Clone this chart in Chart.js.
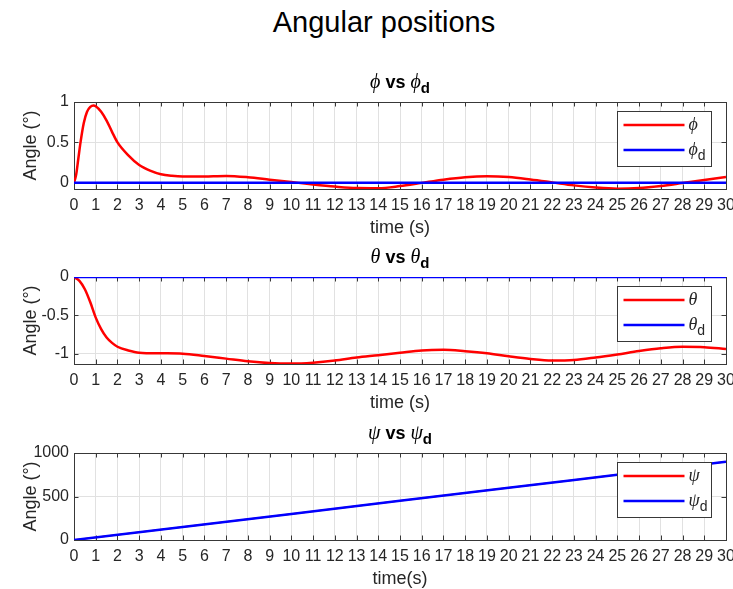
<!DOCTYPE html>
<html>
<head>
<meta charset="utf-8">
<script src="https://cdn.jsdelivr.net/npm/chart.js@4.4.1/dist/chart.umd.min.js"></script>
<style>
  html, body { margin: 0; padding: 0; background: #fff; }
  #wrap { position: relative; width: 733px; height: 589px; overflow: hidden; background: #fff; }
  #wrap canvas { position: absolute; left: 0; }
  #mainTitle {
    position: absolute; top: 8px; left: 384px; transform: translateX(-50%);
    font: 29px/29px 'Liberation Sans', Arial, sans-serif; color: #000; white-space: nowrap;
  }
</style>
</head>
<body>
<div id="wrap">
  <div id="mainTitle">Angular positions</div>
  <canvas id="phiChart" width="733" height="176" style="top:62px"></canvas>
  <canvas id="thetaChart" width="733" height="176" style="top:237px"></canvas>
  <canvas id="psiChart" width="733" height="176" style="top:413px"></canvas>
</div>
<script>
// ---- data ----
const timeTicks = Array.from({ length: 31 }, (_, i) => i);

const phiTime = [0, 0.1, 0.2, 0.3, 0.45, 0.6, 0.75, 0.9, 1.0, 1.25, 1.5, 1.75, 2.0, 2.5, 3.0, 3.5, 4.0, 4.5, 5, 6, 7, 8, 9, 10, 11, 12, 13, 14, 15, 16, 17, 18, 19, 20, 21, 22, 23, 24, 25, 26, 27, 28, 29, 30];
const phiVals = [0, 0.1, 0.3, 0.5, 0.74, 0.88, 0.94, 0.958, 0.948, 0.88, 0.77, 0.63, 0.5, 0.34, 0.22, 0.15, 0.105, 0.085, 0.076, 0.078, 0.084, 0.068, 0.038, 0.008, -0.022, -0.048, -0.066, -0.068, -0.042, -0.002, 0.038, 0.068, 0.08, 0.07, 0.04, 0.004, -0.033, -0.06, -0.074, -0.066, -0.04, -0.004, 0.033, 0.07];
const phiDesTime = [0, 30];
const phiDesVals = [0, 0];

const thetaTime = [0, 0.25, 0.5, 0.75, 1.0, 1.25, 1.5, 1.75, 2.0, 2.5, 3, 4, 5, 6, 7, 8, 9, 10, 11, 12, 13, 14, 15, 16, 17, 18, 19, 20, 21, 22, 23, 24, 25, 26, 27, 28, 29, 30];
const thetaVals = [0, -0.05, -0.16, -0.33, -0.53, -0.68, -0.79, -0.86, -0.91, -0.958, -0.987, -0.995, -1.0, -1.03, -1.065, -1.1, -1.123, -1.13, -1.118, -1.09, -1.05, -1.02, -0.988, -0.958, -0.95, -0.968, -0.995, -1.035, -1.07, -1.09, -1.083, -1.05, -1.01, -0.966, -0.93, -0.91, -0.915, -0.94];
const thetaDesTime = [0, 30];
const thetaDesVals = [0, 0];

const psiTime = [0, 5, 10, 15, 20, 25, 30];
const psiVals = [0, 150, 300, 450, 600, 750, 900];
const psiDesVals = [0, 150, 300, 450, 600, 750, 900];

const phiTicks = [0, 0.5, 1];
const thetaTicks = [-1, -0.5, 0];
const psiTicks = [0, 500, 1000];

const phiRange = [-0.078, 1];
const thetaRange = [-1.135, 0];
const psiRange = [0, 1000];

// ---- styling ----
const SANS = "'Liberation Sans', Arial, sans-serif";
const SERIF = "'Liberation Serif', 'DejaVu Serif', serif";
const RED = '#ff0000';
const BLUE = '#0000ff';
const FRAME = '#383838';
const GRID = '#e1e1e1';

function pts(xs, ys) { return xs.map((x, i) => ({ x, y: ys[i] })); }

// Draws a run of mixed-font pieces. Pieces: {text, font, dy}
function drawPieces(ctx, pieces, x, y, align) {
  let total = 0;
  pieces.forEach(p => { ctx.font = p.font; total += ctx.measureText(p.text).width; });
  let cx = align === 'center' ? x - total / 2 : x;
  ctx.textBaseline = 'alphabetic';
  ctx.textAlign = 'left';
  pieces.forEach(p => {
    ctx.font = p.font;
    ctx.fillText(p.text, cx, y + (p.dy || 0));
    cx += ctx.measureText(p.text).width;
  });
}

const panelDecor = {
  id: 'panelDecor',
  beforeDatasetsDraw(chart) {
    const { ctx, chartArea: a, scales } = chart;
    ctx.save();
    ctx.strokeStyle = FRAME;
    ctx.lineWidth = 1;
    // inward tick marks on all four sides
    const tl = 4.5;
    ctx.beginPath();
    scales.x.ticks.forEach(t => {
      const px = Math.round(scales.x.getPixelForValue(t.value)) + 0.5;
      ctx.moveTo(px, a.top); ctx.lineTo(px, a.top + tl);
      ctx.moveTo(px, a.bottom); ctx.lineTo(px, a.bottom - tl);
    });
    scales.y.ticks.forEach(t => {
      const py = Math.round(scales.y.getPixelForValue(t.value)) + 0.5;
      ctx.moveTo(a.left, py); ctx.lineTo(a.left + tl, py);
      ctx.moveTo(a.right, py); ctx.lineTo(a.right - tl, py);
    });
    ctx.stroke();
    // axes box
    ctx.strokeRect(Math.round(a.left) + 0.5, Math.round(a.top) + 0.5,
      Math.round(a.right - a.left), Math.round(a.bottom - a.top));
    ctx.restore();
  },
  afterDatasetsDraw(chart, args, opts) {
    const { ctx, chartArea: a } = chart;
    const ds = chart.data.datasets;
    const w = 94, h = 55;
    const bx = Math.round(a.right - 15.5 - w) + 0.5;
    const by = Math.round(a.top + 9) + 0.5;
    ctx.save();
    ctx.fillStyle = '#fff';
    ctx.fillRect(bx, by, w, h);
    ctx.strokeStyle = FRAME;
    ctx.lineWidth = 1;
    ctx.strokeRect(bx, by, w, h);
    const rows = [by + 13.5, by + 38.5];
    ds.forEach((d, i) => {
      ctx.strokeStyle = d.borderColor;
      ctx.lineWidth = 2.5;
      ctx.beginPath();
      ctx.moveTo(bx + 6, rows[i]);
      ctx.lineTo(bx + 67, rows[i]);
      ctx.stroke();
      ctx.fillStyle = '#262626';
      const pieces = [{ text: opts.symbol, font: 'italic 18px ' + SERIF, dy: 5 }];
      if (d.subscript) pieces.push({ text: d.subscript, font: '14px ' + SANS, dy: 10 });
      drawPieces(ctx, pieces, bx + 71, rows[i], 'left');
    });
    ctx.restore();
  },
  afterDraw(chart, args, opts) {
    const { ctx, chartArea: a } = chart;
    ctx.save();
    ctx.fillStyle = '#000';
    drawPieces(ctx, [
      { text: opts.symbol, font: 'italic 20px ' + SERIF },
      { text: ' vs ', font: 'bold 18px ' + SANS },
      { text: opts.symbol, font: 'italic 20px ' + SERIF },
      { text: 'd', font: 'bold 15px ' + SANS, dy: 5 }
    ], (a.left + a.right) / 2, a.top - 14, 'center');
    ctx.restore();
  }
};

function makePanel(id, symbol, series, yRange, yTicks, xTitle) {
  return new Chart(document.getElementById(id), {
    type: 'line',
    data: {
      datasets: series.map((s, i) => ({
        data: s.data,
        borderColor: s.color,
        subscript: s.subscript,
        borderWidth: s.width || 2.5,
        pointRadius: 0,
        fill: false,
        cubicInterpolationMode: 'monotone',
        order: series.length - i
      }))
    },
    options: {
      responsive: false,
      animation: false,
      events: [],
      layout: { padding: { top: 40, right: 7, bottom: 0, left: 0 } },
      plugins: {
        legend: { display: false },
        tooltip: { enabled: false },
        panelDecor: { symbol }
      },
      scales: {
        x: {
          type: 'linear', min: 0, max: 30,
          afterBuildTicks: s => { s.ticks = timeTicks.map(v => ({ value: v })); },
          afterFit: s => { s.height = 49; s.paddingLeft = 0; s.paddingRight = 0; },
          grid: { color: GRID, lineWidth: 1, drawTicks: false },
          border: { display: false },
          ticks: {
            autoSkip: false, maxRotation: 0, minRotation: 0, padding: 7,
            color: '#262626', font: { family: SANS, size: 16 },
            callback: v => String(v)
          },
          title: {
            display: true, text: xTitle, color: '#262626',
            font: { family: SANS, size: 18, lineHeight: 1 },
            padding: { top: 0, bottom: 1 }
          }
        },
        y: {
          type: 'linear', min: yRange[0], max: yRange[1],
          afterBuildTicks: s => { s.ticks = yTicks.map(v => ({ value: v })); },
          afterFit: s => { s.width = 74; s.paddingTop = 0; s.paddingBottom = 0; },
          grid: { color: GRID, lineWidth: 1, drawTicks: false },
          border: { display: false },
          ticks: {
            padding: 5, color: '#262626', font: { family: SANS, size: 16 },
            callback: v => String(v)
          },
          title: {
            display: true, text: 'Angle (°)', color: '#262626',
            font: { family: SANS, size: 18, lineHeight: 1 },
            padding: { top: 22, bottom: 0 }
          }
        }
      }
    },
    plugins: [panelDecor]
  });
}

makePanel('phiChart', 'ϕ', [
  { data: pts(phiTime, phiVals), color: RED, subscript: '' },
  { data: pts(phiDesTime, phiDesVals), color: BLUE, subscript: 'd' }
], phiRange, phiTicks, 'time (s)');

makePanel('thetaChart', 'θ', [
  { data: pts(thetaTime, thetaVals), color: RED, subscript: '' },
  { data: pts(thetaDesTime, thetaDesVals), color: BLUE, subscript: 'd' }
], thetaRange, thetaTicks, 'time (s)');

// yaw follows its reference exactly, so the red trace sits beneath the blue one
makePanel('psiChart', 'ψ', [
  { data: pts(psiTime, psiVals), color: RED, subscript: '', width: 1.5 },
  { data: pts(psiTime, psiDesVals), color: BLUE, subscript: 'd' }
], psiRange, psiTicks, 'time(s)');
</script>
</body>
</html>
